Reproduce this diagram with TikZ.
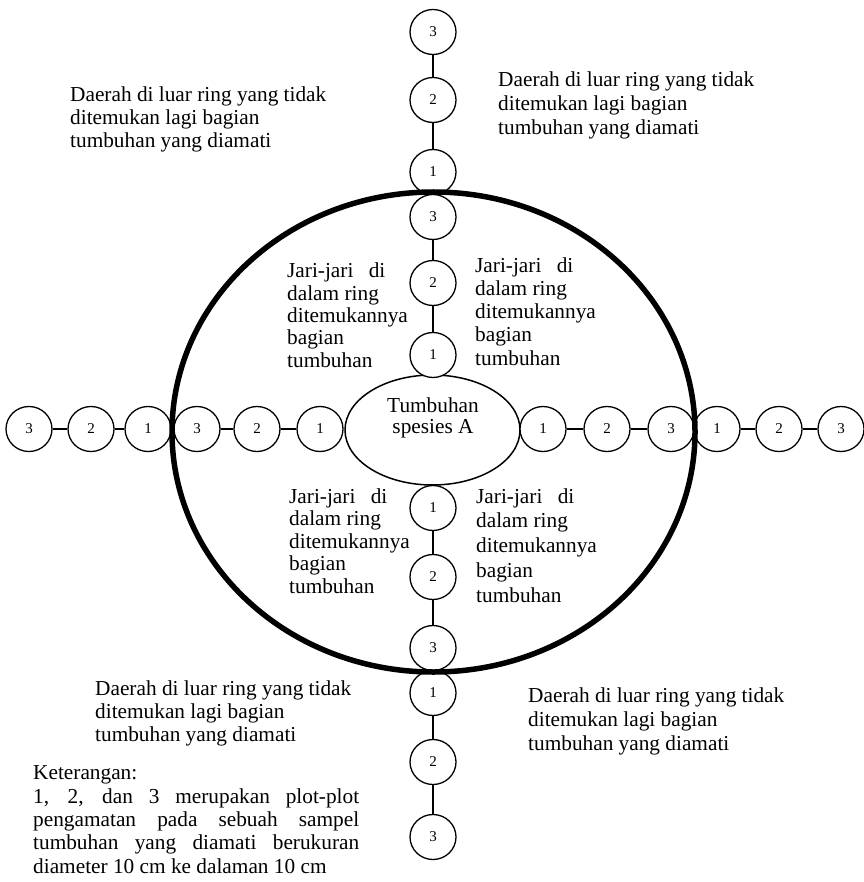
\documentclass[tikz,border=0pt]{standalone}
\usepackage{fontspec}
\setmainfont{Liberation Serif}
\usetikzlibrary{shapes.geometric}
\begin{document}
\begin{tikzpicture}[x=1pt,y=-1pt,
  plot/.style={ellipse, draw, line width=1.3pt, fill=white, minimum width=46pt, minimum height=45pt, inner sep=0pt, font=\fontsize{15}{17}\selectfont},
  link/.style={line width=1.5pt},
  txt/.style={align=left, anchor=base west, inner sep=0pt},
  ringstyle/.style={ellipse, draw, line width=5.5pt, minimum width=523pt, minimum height=480pt, inner sep=0pt},
  plantstyle/.style={ellipse, draw, line width=1.5pt, fill=white, minimum width=175pt, minimum height=110pt, inner sep=0pt}]
\useasboundingbox (0,0) rectangle (863,882);
% central plant
\node[plantstyle] (plant) at (432.5,430) {};
\node[align=center, inner sep=0pt, anchor=base, font=\fontsize{21.3}{21}\selectfont] (plantlabel) at (433,433) {Tumbuhan\\spesies A};
% vertical column
\foreach \n/\t/\y in {t3o/3/32, t2o/2/100, t1o/1/172, t3i/3/217, t2i/2/283, t1i/1/355,
                     b1i/1/508, b2i/2/577, b3i/3/648, b1o/1/693, b2o/2/762, b3o/3/837}
  \node[plot] (\n) at (433,\y) {\t};
% horizontal row
\foreach \n/\t/\x in {l3o/3/29, l2o/2/91, l1o/1/148, l3i/3/197, l2i/2/257, l1i/1/320,
                     r1i/1/543, r2i/2/607, r3i/3/671, r1o/1/717, r2o/2/779, r3o/3/841}
  \node[plot] (\n) at (\x,429) {\t};
% connectors
\foreach \a/\b in {t3o/t2o, t2o/t1o, t3i/t2i, t2i/t1i, b1i/b2i, b2i/b3i, b1o/b2o, b2o/b3o,
                   l3o/l2o, l2o/l1o, l3i/l2i, l2i/l1i, r1i/r2i, r2i/r3i, r1o/r2o, r2o/r3o}
  \draw[link] (\a) -- (\b);
% ring
\node[ringstyle] (ring) at (433.5,432) {};
% outer texts (anchored at baseline of last line)
\node[txt, font=\fontsize{21.3}{23}\selectfont] (tl) at (70,148) {Daerah di luar ring yang tidak\\ditemukan lagi bagian\\tumbuhan yang diamati};
\node[txt, font=\fontsize{21.3}{24}\selectfont] (tr) at (498,135) {Daerah di luar ring yang tidak\\ditemukan lagi bagian\\tumbuhan yang diamati};
\node[txt, font=\fontsize{21.3}{23}\selectfont] (bl) at (95,741) {Daerah di luar ring yang tidak\\ditemukan lagi bagian\\tumbuhan yang diamati};
\node[txt, font=\fontsize{21.3}{24}\selectfont] (br) at (528,750) {Daerah di luar ring yang tidak\\ditemukan lagi bagian\\tumbuhan yang diamati};
% inner texts
\node[txt, font=\fontsize{21.3}{22.3}\selectfont] (ul) at (287,367) {Jari-jari\hspace{10pt} di\\dalam ring\\ditemukannya\\bagian\\tumbuhan};
\node[txt, font=\fontsize{21.3}{23.2}\selectfont] (ur) at (475,365) {Jari-jari\hspace{10pt} di\\dalam ring\\ditemukannya\\bagian\\tumbuhan};
\node[txt, font=\fontsize{21.3}{22.5}\selectfont] (ll) at (289,593) {Jari-jari\hspace{10pt} di\\dalam ring\\ditemukannya\\bagian\\tumbuhan};
\node[txt, font=\fontsize{21.3}{24.7}\selectfont] (lr) at (476,602) {Jari-jari\hspace{10pt} di\\dalam ring\\ditemukannya\\bagian\\tumbuhan};
% legend
\node[txt, font=\fontsize{21.3}{23.3}\selectfont] (legend) at (33,873) {Keterangan:\\
\makebox[326pt][s]{1, 2, dan 3 merupakan plot-plot}\\
\makebox[326pt][s]{pengamatan pada sebuah sampel}\\
\makebox[326pt][s]{tumbuhan yang diamati berukuran}\\
diameter 10 cm ke dalaman 10 cm};
\end{tikzpicture}
\end{document}
